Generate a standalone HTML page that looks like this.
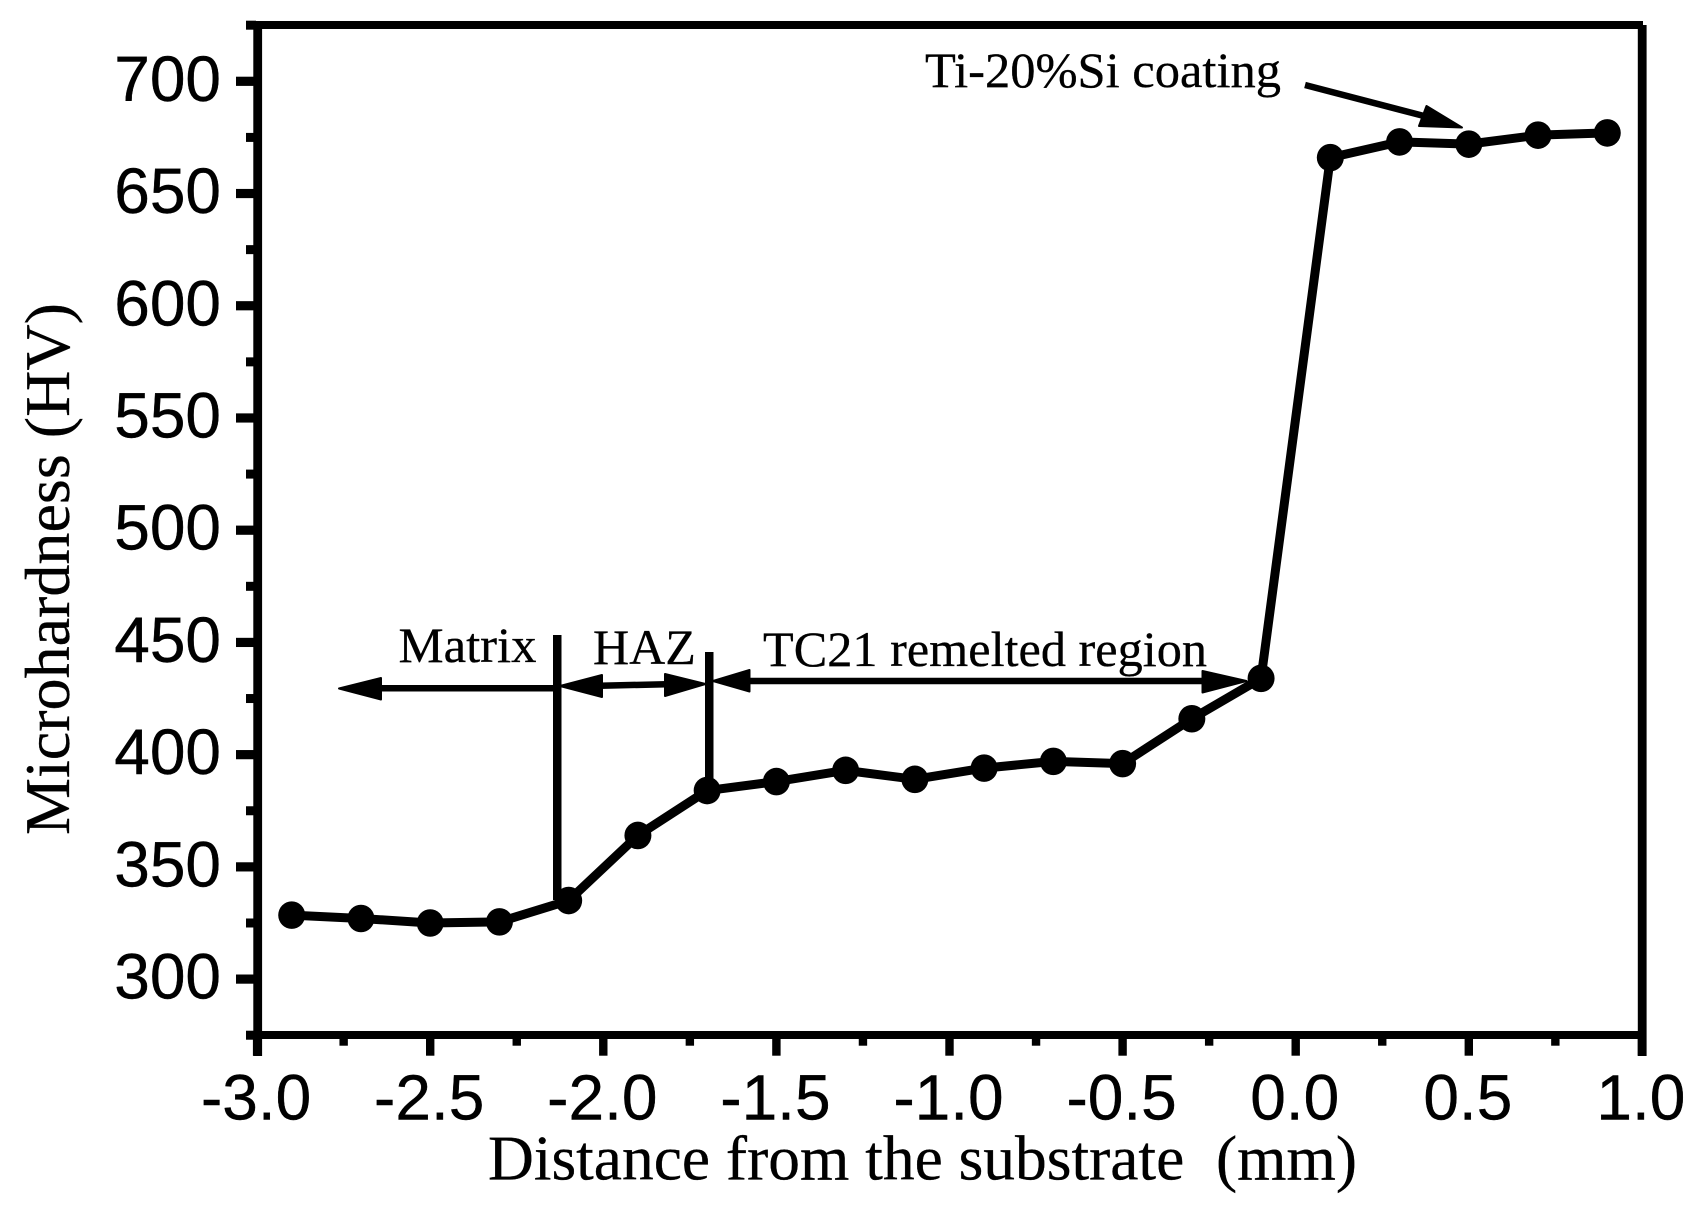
<!DOCTYPE html>
<html lang="en">
<head>
<meta charset="utf-8">
<title>Microhardness vs distance from the substrate</title>
<style>
html,body{margin:0;padding:0;background:#fff;}
body{width:1697px;height:1208px;overflow:hidden;}
svg{display:block;}
.tick-label{font-family:"Liberation Sans",Arial,sans-serif;font-size:64px;fill:#000;stroke:#000;stroke-width:0.4px;}
.serif{font-family:"Liberation Serif","Times New Roman",serif;fill:#000;stroke:#000;stroke-width:0.3px;}
</style>
</head>
<body>
<svg id="chart" xmlns="http://www.w3.org/2000/svg" width="1697" height="1208" viewBox="0 0 1697 1208">
  <rect x="0" y="0" width="1697" height="1208" fill="#fff"/>
  <g id="ticks"></g>
  <g id="tick-labels"></g>
  <g fill="#000">
    <rect x="246" y="21" width="1397" height="8"/>
    <rect x="253.3" y="21" width="8.8" height="1035"/>
    <rect x="1637.8" y="25" width="8.8" height="1031"/>
    <rect x="253.3" y="1031" width="1393" height="8"/>
  </g>
  <g fill="#000" stroke="none">
    <rect x="553" y="635" width="8.5" height="265"/>
    <rect x="705" y="652" width="8.5" height="136"/>
    <line x1="380" y1="688.3" x2="557" y2="688.3" stroke="#000" stroke-width="6.5"/>
    <polygon points="339,688.5 381,678 381,699.5" stroke="#000" stroke-width="2" stroke-linejoin="round"/>
    <line x1="600" y1="685.8" x2="666" y2="684.2" stroke="#000" stroke-width="6.5"/>
    <polygon points="560,686 602,675 602,697" stroke="#000" stroke-width="2" stroke-linejoin="round"/>
    <polygon points="705.5,684 665,674 665,696" stroke="#000" stroke-width="2" stroke-linejoin="round"/>
    <line x1="748" y1="681" x2="1204" y2="681" stroke="#000" stroke-width="6.5"/>
    <polygon points="713,681 749.5,670 749.5,691.5" stroke="#000" stroke-width="2" stroke-linejoin="round"/>
    <polygon points="1246.5,681 1202.5,671 1202.5,692.5" stroke="#000" stroke-width="2" stroke-linejoin="round"/>
    <line x1="1305" y1="85" x2="1424" y2="116" stroke="#000" stroke-width="6.5"/>
    <polygon points="1462,127.5 1426.5,106 1419,126" stroke="#000" stroke-width="2" stroke-linejoin="round"/>
  </g>
  <g id="series"></g>
  <text class="serif" font-size="64" transform="translate(69,835) rotate(-90)" textLength="532" lengthAdjust="spacingAndGlyphs">Microhardness (HV)</text>
  <text class="serif" font-size="63" x="488" y="1179.5" textLength="869" lengthAdjust="spacingAndGlyphs" xml:space="preserve" style="white-space:pre">Distance from the substrate  (mm)</text>
  <text class="serif" font-size="50" x="925" y="87" textLength="356" lengthAdjust="spacingAndGlyphs">Ti-20%Si coating</text>
  <text class="serif" font-size="50" x="398.5" y="662" textLength="138" lengthAdjust="spacingAndGlyphs">Matrix</text>
  <text class="serif" font-size="50" x="593" y="664">HAZ</text>
  <text class="serif" font-size="50" x="763" y="666" textLength="444" lengthAdjust="spacingAndGlyphs">TC21 remelted region</text>
</svg>
<script>
const distances = [-2.9, -2.7, -2.5, -2.3, -2.1, -1.9, -1.7, -1.5, -1.3, -1.1, -0.9, -0.7, -0.5, -0.3, -0.1, 0.1, 0.3, 0.5, 0.7, 0.9];
const hardness = [328.5, 327, 325, 325.5, 335, 364, 384, 388, 393, 389, 394, 397, 396, 416, 434, 666, 673, 672, 676, 677];
const xTickLabels = ['-3.0', '-2.5', '-2.0', '-1.5', '-1.0', '-0.5', '0.0', '0.5', '1.0'];
const yTickLabels = ['300', '350', '400', '450', '500', '550', '600', '650', '700'];
const xMinorTicks = [-2.75, -2.25, -1.75, -1.25, -0.75, -0.25, 0.25, 0.75];
const yMinorTicks = [275, 325, 375, 425, 475, 525, 575, 625, 675, 725];

const NS = 'http://www.w3.org/2000/svg';
function xScale(v) { return 1295.7 + 346.2 * v; }
function yScale(v) { return 81.3 + (700 - v) * 2.2445; }
function make(tag, parent, attrs) {
  const el = document.createElementNS(NS, tag);
  for (const k in attrs) el.setAttribute(k, attrs[k]);
  parent.appendChild(el);
  return el;
}

const ticks = document.getElementById('ticks');
const tickLabels = document.getElementById('tick-labels');
const series = document.getElementById('series');

xTickLabels.forEach(function (label) {
  const v = parseFloat(label);
  const t = make('rect', ticks, { x: xScale(v) - 4.2, y: 1035, width: 8.4, height: 20.7, fill: '#000' });
  
  
  const s = make('text', tickLabels, { x: xScale(v) - 1, y: 1119.5, 'text-anchor': 'middle', class: 'tick-label' });
  
  
  s.textContent = label;
});
xMinorTicks.forEach(function (v) {
  const t = make('rect', ticks, { x: xScale(v) - 4.2, y: 1035, width: 8.4, height: 10.7, fill: '#000' });
  
  
});
yTickLabels.forEach(function (label) {
  const v = parseFloat(label);
  const t = make('rect', ticks, { x: 236, y: yScale(v) - 4.6, width: 20, height: 9.2, fill: '#000' });
  
  
  const s = make('text', tickLabels, { x: 221, y: yScale(v) + 19.5, 'text-anchor': 'end', class: 'tick-label' });
  
  
  s.textContent = label;
});
yMinorTicks.forEach(function (v) {
  const t = make('rect', ticks, { x: 246, y: yScale(v) - 4.5, width: 10, height: 9, fill: '#000' });
  
  
});

const line = make('polyline', series, {
  points: distances.map(function (d, i) { return xScale(d) + ',' + yScale(hardness[i]); }).join(' '),
  fill: 'none', stroke: '#000', 'stroke-width': 9, 'stroke-linejoin': 'round'
});


distances.forEach(function (d, i) {
  const c = make('ellipse', series, { cx: xScale(d), cy: yScale(hardness[i]), rx: 13.5, ry: 13.8, fill: '#000' });
  
  
});
</script>
</body>
</html>
